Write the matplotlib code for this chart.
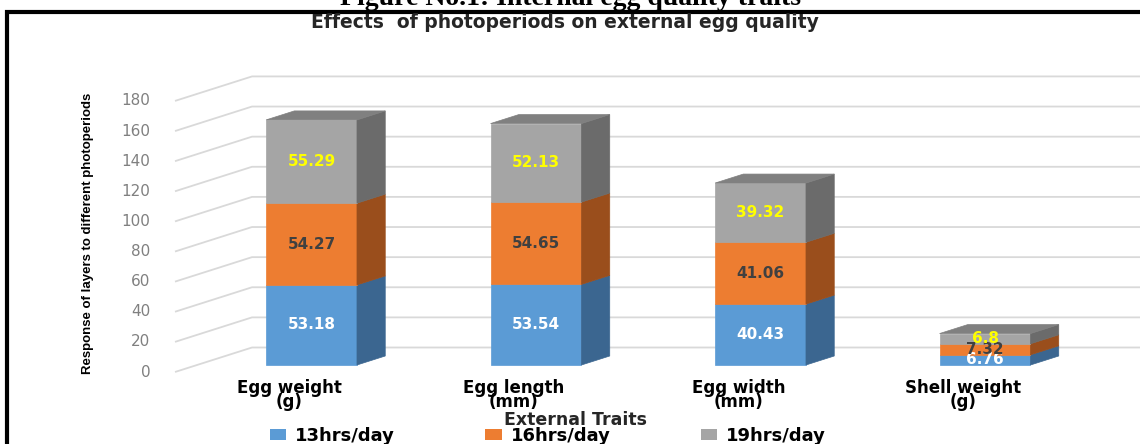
import matplotlib.pyplot as plt
from matplotlib.patches import Polygon, Rectangle

# data
traits = ['Egg weight\n(g)', 'Egg length\n(mm)', 'Egg width\n(mm)', 'Shell weight\n(g)']
series = ['13hrs/day', '16hrs/day', '19hrs/day']
h13 = [53.18, 53.54, 40.43, 6.76]
h16 = [54.27, 54.65, 41.06, 7.32]
h19 = [55.29, 52.13, 39.32, 6.8]
yticks = list(range(0, 181, 20))

front_col = ['#5B9BD5', '#ED7D31', '#A5A5A5']
side_col = ['#3B6690', '#9A4E1C', '#6B6B6B']
top_col = ['#4A80B3', '#C2651F', '#808080']
label_col = ['white', '#404040', '#FFFF00']

W, H = 1140, 444
fig = plt.figure(figsize=(W / 100, H / 100), dpi=100)
ax = fig.add_axes([0, 0, 1, 1])
# one category = 224.5 px, one unit of value = 1.506 px
ax.set_xlim(-289.5 / 224.5, (W - 289.5) / 224.5)
ax.set_ylim((372 - H) / 1.506, 372 / 1.506)
ax.axis('off')

DX, DY = 77 / 224.5, 24.5 / 1.506   # depth of the floor in data units
d1, d2 = 0.286, 0.653               # front / back of the bars
bw = 0.405
x0, x_end = -0.51, 4.2


def proj(x, v, d):
    return (x + d * DX, v + d * DY)


# side wall + back wall gridlines
for v in yticks:
    ax.plot([x0, x0 + DX, x_end], [v, v + DY, v + DY], color='#D9D9D9', lw=1.3,
            solid_capstyle='butt', zorder=1)
    ax.text(x0 - 0.11, v, str(v), ha='right', va='center', fontsize=11,
            color='#808080', zorder=2)

# stacked 3d columns
for i in range(len(traits)):
    vals = [h13[i], h16[i], h19[i]]
    base = 0
    xl, xr = i - bw / 2, i + bw / 2
    for k, h in enumerate(vals):
        b, t = base, base + h
        fr = [proj(xl, b, d1), proj(xr, b, d1), proj(xr, t, d1), proj(xl, t, d1)]
        sd = [proj(xr, b, d1), proj(xr, b, d2), proj(xr, t, d2), proj(xr, t, d1)]
        ax.add_patch(Polygon(fr, closed=True, fc=front_col[k], ec=front_col[k], lw=0.5, zorder=3))
        ax.add_patch(Polygon(sd, closed=True, fc=side_col[k], ec=side_col[k], lw=0.5, zorder=3))
        if k == len(vals) - 1:
            tp = [proj(xl, t, d1), proj(xr, t, d1), proj(xr, t, d2), proj(xl, t, d2)]
            ax.add_patch(Polygon(tp, closed=True, fc=top_col[k], ec=top_col[k], lw=0.5, zorder=3))
        cx, cy = proj(i, b + h / 2, d1)
        ax.text(cx, cy, f'{h:g}', ha='center', va='center', fontsize=11,
                fontweight='bold', color=label_col[k], zorder=5)
        base = t
    ax.text(i, -4.5, traits[i], ha='center', va='top', fontsize=12,
            fontweight='bold', color='black', linespacing=0.72, zorder=5)

# titles and axis labels
fig.text(570 / W, 1 - 5 / H, 'Figure No.1: Internal egg quality traits', ha='center',
         va='baseline', fontsize=20, fontweight='bold', family='Liberation Serif')
fig.text(565 / W, 1 - 23 / H, 'Effects  of photoperiods on external egg quality',
         ha='center', va='center', fontsize=13.5, fontweight='bold', color='#262626')
fig.text(575 / W, 1 - 420 / H, 'External Traits', ha='center', va='center',
         fontsize=12.5, fontweight='bold', color='#262626')
fig.text(88 / W, 1 - 233 / H, 'Response of layers to different photoperiods',
         rotation=90, ha='center', va='center', fontsize=9.5, fontweight='bold',
         family='Liberation Sans')

handles = [Rectangle((0, 0), 1, 1, fc=c, ec='none') for c in front_col]
fig.legend(handles, series, ncol=3, loc='center', bbox_to_anchor=(548 / W, 1 - 436 / H),
           frameon=False, handlelength=0.9, handleheight=0.5, handletextpad=0.5,
           columnspacing=5.0, prop=dict(weight='bold', size=13))

# chart border (runs off the right and bottom edges)
fig.patches.append(Rectangle((6.5 / W, -0.2), 1.3, (H - 12.5) / H + 0.2,
                             transform=fig.transFigure, fill=False, lw=3, ec='black'))

fig.savefig('out.png', dpi=100)
